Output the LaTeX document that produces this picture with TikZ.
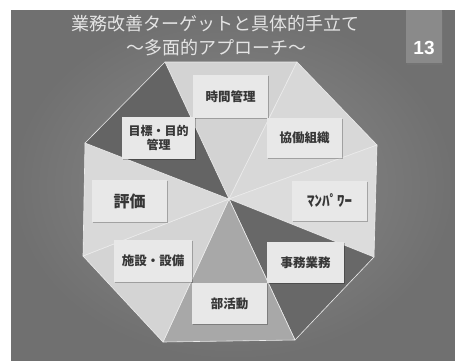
\documentclass[tikz,border=0pt]{standalone}
\usepackage{fontspec}
\usetikzlibrary{shadows}
\newfontfamily\cjk{Noto Sans CJK JP}
\setsansfont{Liberation Sans}
\definecolor{boxc}{HTML}{E8E8E8}
\definecolor{labc}{HTML}{363636}
\definecolor{ttlc}{HTML}{E4E4E4}
\definecolor{bgin}{HTML}{8C8C8C}
\definecolor{bgout}{HTML}{707070}
\definecolor{pgc}{HTML}{8A8A8A}
\begin{document}
\begin{tikzpicture}[x=1pt,y=-1pt,
  tri/.style={draw=white!85!gray, line width=0.6pt, line join=round},
  lbl/.style={fill=boxc, minimum width=75pt, minimum height=41pt, inner sep=0pt,
    text=labc, font=\cjk\bfseries\fontsize{12.5}{15}\selectfont, align=center,
    drop shadow={shadow xshift=0.8pt, shadow yshift=-1pt, fill=black, opacity=0.25}},
  ttl/.style={text=ttlc, font=\cjk\fontsize{18}{22}\selectfont, inner sep=0pt}
]
\useasboundingbox (0,0) rectangle (455,360);
\fill[white] (0,0) rectangle (455,360);
\shade[inner color=bgin, outer color=bgout] (11,10) rectangle (455,360);
% page number box
\fill[black!55] (406.5,12) rectangle (442.5,64.5);
\fill[pgc] (406,10) rectangle (442,63);
\node[text=white, font=\sffamily\bfseries\fontsize{19}{22}\selectfont, inner sep=0pt] (pg) at (424,48) {13};
% title
\node[ttl] (t1) at (215,24) {業務改善ターゲットと具体的手立て};
\node[ttl] (t2) at (216,48) {～多面的アプローチ～};
% octagon
\coordinate (A) at (165,62);
\coordinate (B) at (297,62);
\coordinate (C) at (377,145);
\coordinate (D) at (374,257);
\coordinate (E) at (295,340);
\coordinate (F) at (163,342);
\coordinate (G) at (83,256);
\coordinate (H) at (85,143);
\coordinate (O) at (229,199);
\filldraw[tri, fill={rgb,255:red,211;green,211;blue,211}] (A) -- (B) -- (O) -- cycle;
\filldraw[tri, fill={rgb,255:red,216;green,216;blue,216}] (B) -- (C) -- (O) -- cycle;
\filldraw[tri, fill={rgb,255:red,220;green,220;blue,220}] (C) -- (D) -- (O) -- cycle;
\filldraw[tri, fill={rgb,255:red,104;green,104;blue,104}] (D) -- (E) -- (O) -- cycle;
\filldraw[tri, fill={rgb,255:red,168;green,168;blue,168}] (E) -- (F) -- (O) -- cycle;
\filldraw[tri, fill={rgb,255:red,212;green,212;blue,212}] (F) -- (G) -- (O) -- cycle;
\filldraw[tri, fill={rgb,255:red,217;green,217;blue,217}] (G) -- (H) -- (O) -- cycle;
\filldraw[tri, fill={rgb,255:red,100;green,100;blue,100}] (H) -- (A) -- (O) -- cycle;
% labels
\node[lbl, minimum height=43pt] (jikan) at (230.5,96.5) {時間管理};
\node[lbl, minimum width=73pt, minimum height=42pt, font=\cjk\bfseries\fontsize{12}{14.5}\selectfont] (mokuhyo) at (158.5,138) {目標・目的\\管理};
\node[lbl, minimum height=42pt, font=\cjk\bfseries\fontsize{16}{19}\selectfont] (hyoka) at (129.5,201) {評価};
\node[lbl, minimum height=40pt] (kyodo) at (304.5,138) {協働組織};
\node[lbl, minimum height=40pt, font=\cjk\bfseries\fontsize{15}{18}\selectfont] (manpower) at (329.5,201) {ﾏﾝﾊﾟﾜｰ};
\node[lbl, minimum width=78pt, minimum height=42pt] (shisetsu) at (153,261) {施設・設備};
\node[lbl, minimum width=77pt] (jimu) at (305.5,262.5) {事務業務};
\node[lbl] (bukatsu) at (229.5,303.5) {部活動};
\end{tikzpicture}
\end{document}
